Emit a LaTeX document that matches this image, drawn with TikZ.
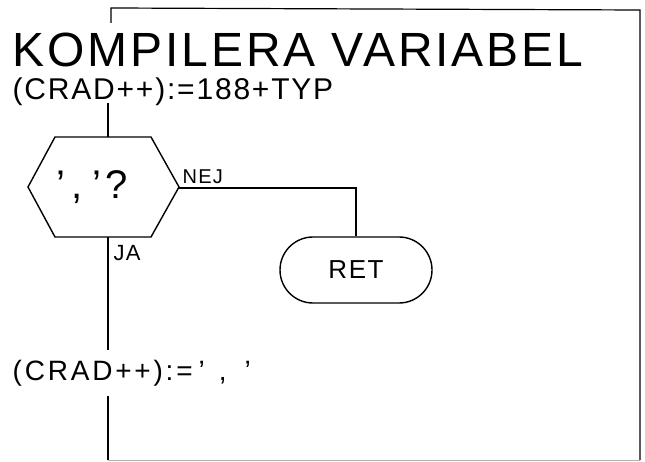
\documentclass[tikz,border=0pt]{standalone}
\usepackage{fontspec}
\setmainfont{Liberation Sans}[LetterSpace=6]
\usetikzlibrary{positioning}

\begin{document}
\begin{tikzpicture}[x=1pt,y=-1pt,line width=1.4pt,
    ret/.style={draw,rounded corners=33pt,minimum width=152pt,minimum height=66pt,
      font=\fontsize{26}{26}\selectfont},
    lbl/.style={inner sep=0pt,font=\fontsize{20}{20}\selectfont}]
  \useasboundingbox (0,0) rectangle (645,462);
  % ramen
  \draw[line width=1.2pt] (111,23) -- (111,8) -- (640,10) -- (640,460);
  \draw[gray!60,line width=1pt] (108,460) -- (640,460);

  \node[anchor=base west,inner sep=0pt,text depth=0pt,font=\fontsize{48}{48}\selectfont] (rubrik) at (12,67) {KOMPILERA VARIABEL};
  \node[anchor=base west,inner sep=0pt,text height=22pt,font=\fontsize{30}{30}\selectfont] (crad1) at (12,100) {(CRAD++):=188+TYP};

  \coordinate (in) at (108,103);
  \coordinate (hex) at (103,187);
  \coordinate (fraga-n) at (108,137);
  \coordinate (fraga-s) at (108,237);
  \coordinate (fraga-o) at (179,188);
  \draw (hex) ++(-75,0) -- ++(27,-50) -- ++(96,0) -- ++(28,50) -- ++(-28,50) -- ++(-96,0) -- cycle;
  \node[font=\fontsize{40}{40}\selectfont] (fraga) at (92,187) {'\hspace{6pt},\hspace{10pt}'\hspace{4pt}?};

  \node[ret] (retur) at (356,270) {RET};
  \node[anchor=west,inner xsep=0pt,inner ysep=9pt,font=\fontsize{28}{28}\selectfont\addfontfeature{LetterSpace=10}] (crad2) at (12,373)
    {(CRAD++):=\hspace{6pt}'\hspace{14pt},\hspace{18pt}'};
  \coordinate (ut) at (108,460);

  \draw (in) -- (fraga-n);
  \draw (fraga-o) -- (fraga-o -| retur.north) -- (retur.north);
  \draw (fraga-s) -- (fraga-s |- crad2.north);
  \draw (crad2.south -| fraga-s) -- (ut);

  \node[lbl,above right=4pt and 3pt of fraga-o] (nej) {NEJ};
  \node[lbl,font=\fontsize{22}{22}\selectfont,below right=8pt and 5pt of fraga-s] (ja) {JA};
\end{tikzpicture}
\end{document}
